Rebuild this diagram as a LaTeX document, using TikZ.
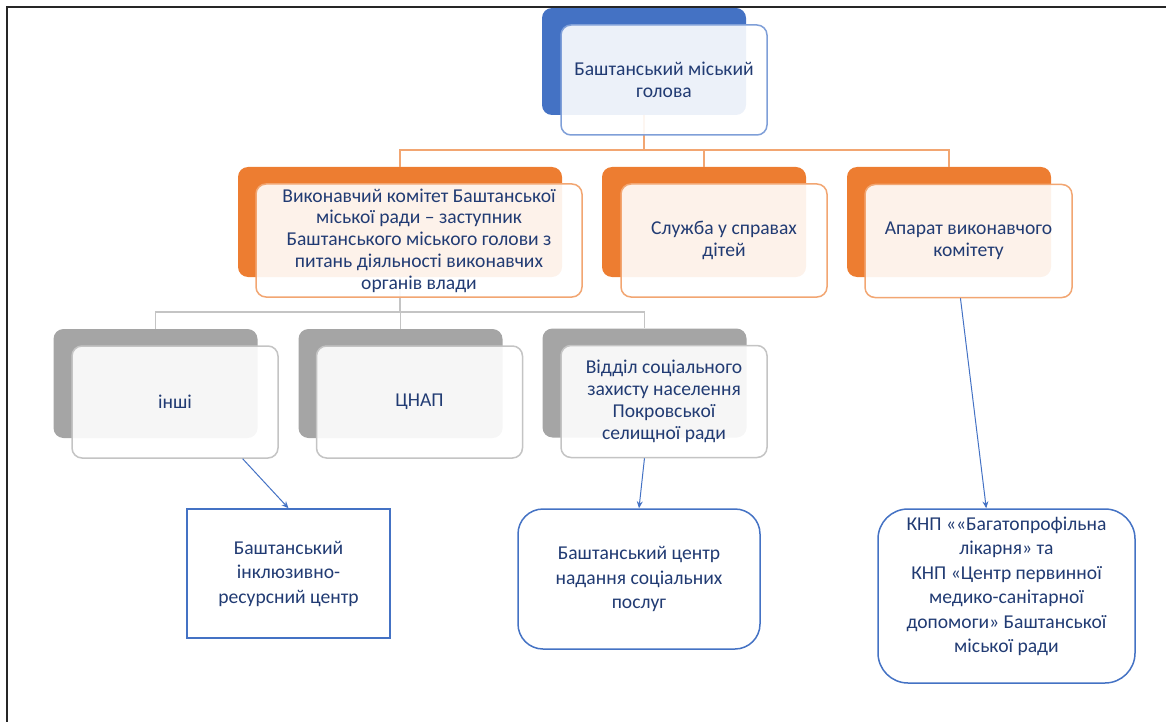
\documentclass[tikz,border=0pt]{standalone}
\usepackage{fontspec}
\setmainfont{Carlito}
\usetikzlibrary{arrows.meta}
\definecolor{headblue}{HTML}{4472C4}
\definecolor{headline}{HTML}{7F9FD8}
\definecolor{orgorange}{HTML}{ED7D31}
\definecolor{orgline}{HTML}{F2A672}
\definecolor{unitgray}{HTML}{A5A5A5}
\definecolor{unitline}{HTML}{C4C4C4}
\definecolor{labeltext}{HTML}{213B73}
\tikzset{
    %Define standard arrow tip
    >={Stealth[length=7pt,width=6pt]},
    backcard/.style={
      rectangle,
      rounded corners=10pt,
      minimum width=204pt,
      minimum height=110pt},
    frontcard/.style={
      rectangle,
      rounded corners=10pt,
      fill=white, fill opacity=0.9, text opacity=1,
      line width=1.5pt,
      minimum width=206pt,
      minimum height=112pt,
      text=labeltext, align=center,
      font=\fontsize{19.6}{21.8}\selectfont},
    leaf/.style={
      rectangle,
      draw=headblue, line width=1.5pt, fill=white,
      text=labeltext, align=center,
      font=\fontsize{19.6}{24.5}\selectfont},
    orgtie/.style={
      draw=orgline, line width=1.5pt},
    unittie/.style={
      draw=unitline, line width=1.5pt},
    pointer/.style={
      ->, draw=headblue, line width=1pt},
}

\begin{document}
\begin{tikzpicture}[x=1pt,y=-1pt]
    \useasboundingbox (0,0) rectangle (1166,722);

    % back cards
    \node (headB) [backcard, fill=headblue, minimum height=107pt] at (644,61.5) {};
    \node (execB) [backcard, fill=orgorange, minimum width=324pt] at (400,222) {};
    \node (childB) [backcard, fill=orgorange] at (704,222) {};
    \node (apparB) [backcard, fill=orgorange] at (949,222) {};
    \node (otherB) [backcard, fill=unitgray, minimum height=109pt] at (155.5,383.5) {};
    \node (cnapB) [backcard, fill=unitgray, minimum height=109pt] at (400.5,383.5) {};
    \node (viddilB) [backcard, fill=unitgray, minimum height=109pt] at (644.5,383) {};

    % ties
    \coordinate (orgbar) at (644,150);
    \draw [orgtie] (headB.south) -- (orgbar);
    \draw [orgtie] (orgbar) -| (execB.north);
    \draw [orgtie] (orgbar) -| (childB.north);
    \draw [orgtie] (orgbar) -| (apparB.north);
    \coordinate (unitbar) at (400,312);
    \draw [unittie] (execB.south) -- (unitbar);
    \draw [unittie] (unitbar) -| (otherB.north);
    \draw [unittie] (unitbar) -| (cnapB.north);
    \draw [unittie] (unitbar) -| (viddilB.north);

    % front cards
    \node (headF) [frontcard, draw=headline, minimum height=110pt] at (664,80)
          {Баштанський міський\\голова};
    \node (execF) [frontcard, draw=orgline, minimum width=326pt, minimum height=113pt] at (419,240.5)
          {Виконавчий комітет Баштанської\\міської ради – заступник\\Баштанського міського голови з\\питань діяльності виконавчих\\органів влади};
    \node (childF) [frontcard, draw=orgline, minimum height=113pt] at (724,240.5)
          {Служба у справах\\дітей};
    \node (apparF) [frontcard, draw=orgline, minimum width=207pt, minimum height=113pt] at (968.5,241)
          {Апарат виконавчого\\комітету};
    \node (otherF) [frontcard, draw=unitline] at (175,402)
          {інші};
    \node (cnapF) [frontcard, draw=unitline] at (419.5,402)
          {ЦНАП};
    \node (viddilF) [frontcard, draw=unitline] at (664,401.5)
          {Відділ соціального\\захисту населення\\Покровської\\селищної ради};

    % subordinate institutions
    \node (inklA) [leaf, minimum width=203pt, minimum height=129pt] at (288.5,573.5)
          {Баштанський\\інклюзивно-\\ресурсний центр};
    \node (centrB) [leaf, rounded corners=25pt, minimum width=242pt, minimum height=140pt] at (639,579)
          {Баштанський центр\\надання соціальних\\послуг};
    \node (knpC) [leaf, rounded corners=30pt, minimum width=257pt, minimum height=174pt, text depth=22pt] at (1006.5,596)
          {КНП ««Багатопрофільна\\лікарня» та\\КНП «Центр первинної\\медико-санітарної\\допомоги» Баштанської\\міської ради};

    \draw [pointer] (otherF.-40) -- (inklA.north);
    \draw [pointer] (viddilF.-109) -- (centrB.north);
    \draw [pointer] (apparF.-98) -- (knpC.103);

    % page frame
    \draw [line width=2pt, black!85] (7,722) -- (7,7) -- (1166,7);
\end{tikzpicture}
\end{document}
